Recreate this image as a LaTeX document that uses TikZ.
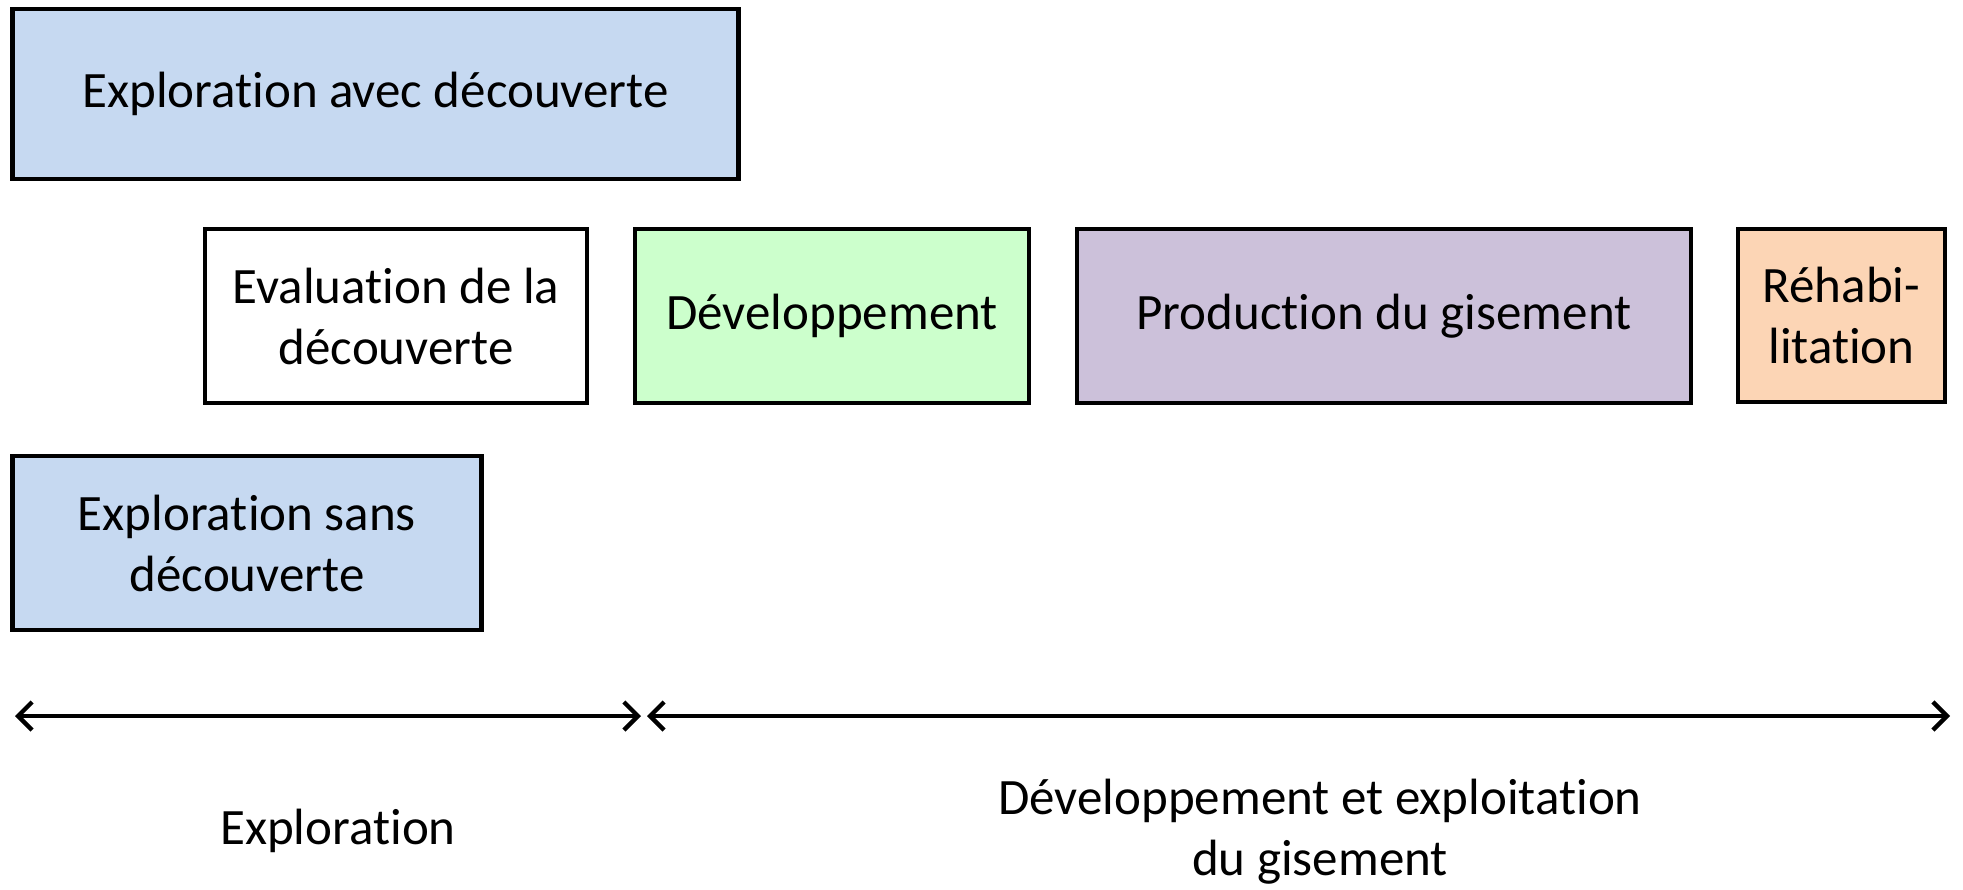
\documentclass[tikz,border=0pt]{standalone}
\usepackage{fontspec}
\setmainfont{Carlito}[RawFeature={-liga;-clig;-dlig;-calt}]
\usetikzlibrary{arrows.meta}
\definecolor{lblue}{HTML}{C6D9F1}
\definecolor{lgreen}{HTML}{CCFFCC}
\definecolor{lpurple}{HTML}{CCC1DA}
\definecolor{lorange}{HTML}{FCD5B5}
\tikzset{
  phase/.style={draw=black, line width=2.4pt, rectangle, align=center, inner sep=0pt,
    font=\fontsize{25.5}{30.5}\selectfont},
  lbl/.style={align=center, inner sep=0pt, font=\fontsize{25.5}{30.5}\selectfont},
  span/.style={line width=2.2pt, {Straight Barb[length=7pt,width=14pt,line width=2.2pt]}-{Straight Barb[length=7pt,width=14pt,line width=2.2pt]}}
}
\begin{document}
\begin{tikzpicture}[x=0.5pt,y=-0.5pt]
\useasboundingbox (0,0) rectangle (1963,889);
\node[phase, fill=lblue, minimum width=363pt, minimum height=85pt] (avec) at (375.5,94) {Exploration avec découverte};
\node[phase, fill=white, minimum width=191pt, minimum height=87pt] (eval) at (396,316) {Evaluation de la\\découverte};
\node[phase, fill=lgreen, minimum width=197pt, minimum height=87pt] (dev) at (832,316) {Développement};
\node[phase, fill=lpurple, minimum width=307pt, minimum height=87pt] (prod) at (1384,316) {Production du gisement};
\node[phase, fill=lorange, minimum width=103.5pt, minimum height=86.5pt] (rehab) at (1841.5,315.5) {Réhabi-\\litation};
\node[phase, fill=lblue, minimum width=234.75pt, minimum height=87pt] (sans) at (247,543) {Exploration sans\\découverte};
\coordinate (a1) at (15,716);
\coordinate (a2) at (641,716);
\coordinate (a3) at (647,716);
\coordinate (a4) at (1950,716);
\draw[span] (a1) -- (a2);
\draw[span] (a3) -- (a4);
\node[lbl] (explo) at (338,831) {Exploration};
\node[lbl] (devexp) at (1320,832) {Développement et exploitation\\du gisement};
\end{tikzpicture}
\end{document}
